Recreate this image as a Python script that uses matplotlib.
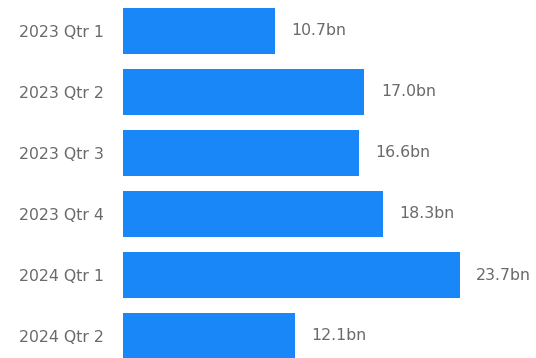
import matplotlib
matplotlib.use("Agg")
import matplotlib.pyplot as plt

# ─── Données ────────────────────────────────────────────────
quarters = ["2023 Qtr 1", "2023 Qtr 2", "2023 Qtr 3", "2023 Qtr 4", "2024 Qtr 1", "2024 Qtr 2"]
values   = [10.7, 17.0, 16.6, 18.3, 23.7, 12.1]
labels   = ["10.7bn", "17.0bn", "16.6bn", "18.3bn", "23.7bn", "12.1bn"]

BAR_COLOR  = "#1a87f8"
TEXT_COLOR = "#6a6a6a"
FONT_SIZE  = 11.3

plt.rcParams["font.family"] = ["DejaVu Sans"]

fig = plt.figure(figsize=(5.36, 3.58), dpi=100)
fig.patch.set_facecolor("white")
ax = fig.add_axes([123 / 536, 0, 1 - 123 / 536, 1])

pos = list(range(len(quarters)))
ax.barh(pos, values, color=BAR_COLOR, height=0.76)

ax.set_xlim(0, (536 - 123) / 14.2)
ax.set_ylim((358 - 31) / 61, -31 / 61)

# Étiquettes de valeur à droite des barres
for p, v, lab in zip(pos, values, labels):
    ax.annotate(lab, (v, p), xytext=(12, 0), textcoords="offset points",
                va="center", ha="left", fontsize=FONT_SIZE, color=TEXT_COLOR)

ax.set_yticks(pos)
ax.set_yticklabels(quarters, fontsize=FONT_SIZE, color=TEXT_COLOR)
ax.tick_params(axis="y", length=0, pad=14)
ax.set_xticks([])
for spine in ax.spines.values():
    spine.set_visible(False)

fig.savefig("out.png", dpi=100, facecolor="white")
plt.close(fig)
